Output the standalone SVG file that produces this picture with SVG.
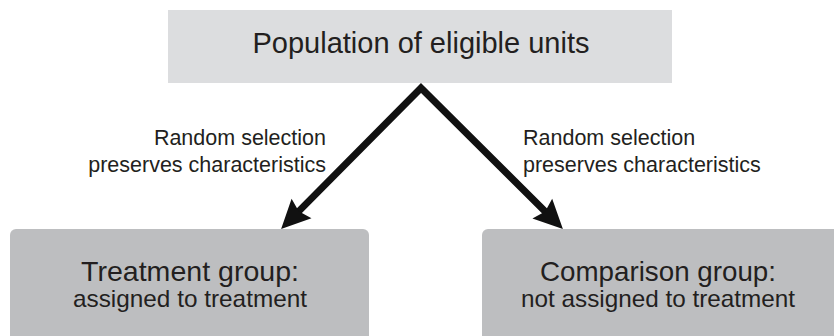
<svg xmlns="http://www.w3.org/2000/svg" width="834" height="336" viewBox="0 0 834 336">
  <defs>
    <style>
      .top { fill: #dcdddf; }
      .bot { fill: #bdbec0; }
      .t { font-family: "Liberation Sans", Arial, sans-serif; fill: #231f20; }
      .conn { fill: none; stroke: #111; stroke-width: 7; stroke-linejoin: miter; stroke-miterlimit: 10; }
    </style>
    <marker id="ah" markerUnits="userSpaceOnUse" markerWidth="60" markerHeight="60" refX="0" refY="0" orient="auto-start-reverse" overflow="visible" viewBox="-30 -30 60 60">
      <path d="M20,0 L-9,-14 L-5,0 L-9,14 Z" fill="#111"/>
    </marker>
  </defs>
  <rect width="834" height="336" fill="#ffffff"/>
  <g id="population">
    <rect class="top" x="168" y="10" width="504" height="73"/>
    <text class="t" x="421" y="53" font-size="29" text-anchor="middle">Population of eligible units</text>
  </g>
  <g id="connectors">
    <path class="conn" d="M295.2,214.9 L421,88 L548.7,215" marker-start="url(#ah)" marker-end="url(#ah)"/>
  </g>
  <g id="label-left">
    <text class="t" x="326" y="145" font-size="21.5" text-anchor="end">Random selection</text>
    <text class="t" x="326" y="172" font-size="21.5" text-anchor="end">preserves characteristics</text>
  </g>
  <g id="label-right">
    <text class="t" x="523" y="145" font-size="21.5">Random selection</text>
    <text class="t" x="523" y="172" font-size="21.5">preserves characteristics</text>
  </g>
  <g id="treatment">
    <rect class="bot" x="10" y="229" width="359" height="120" rx="6"/>
    <text class="t" x="190" y="281" font-size="28" text-anchor="middle" textLength="218" lengthAdjust="spacingAndGlyphs">Treatment group:</text>
    <text class="t" x="190" y="307" font-size="24" text-anchor="middle" textLength="234" lengthAdjust="spacingAndGlyphs">assigned to treatment</text>
  </g>
  <g id="comparison">
    <rect class="bot" x="482" y="229" width="370" height="120" rx="6"/>
    <text class="t" x="658" y="281" font-size="28" text-anchor="middle" textLength="236" lengthAdjust="spacingAndGlyphs">Comparison group:</text>
    <text class="t" x="658" y="307" font-size="24" text-anchor="middle" textLength="274" lengthAdjust="spacingAndGlyphs">not assigned to treatment</text>
  </g>
</svg>
